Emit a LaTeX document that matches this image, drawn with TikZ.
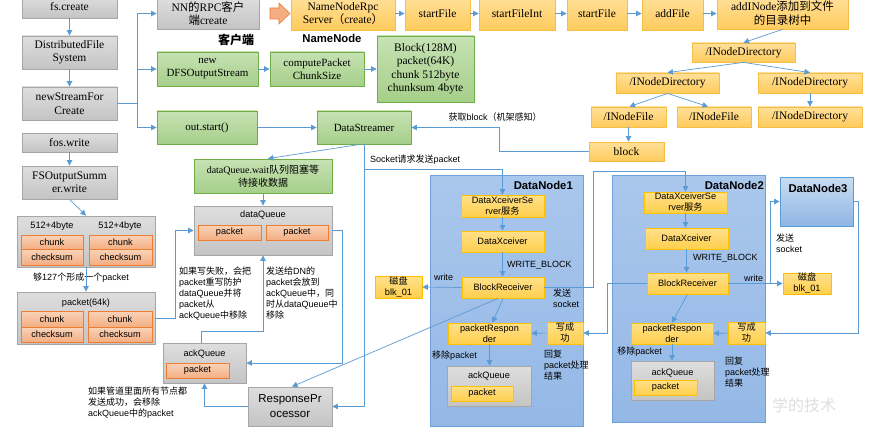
\documentclass[tikz,border=0pt]{standalone}
\usepackage{fontspec}
\setmainfont{Liberation Serif}
\setsansfont{Liberation Sans}
\newfontfamily\cjk{Noto Sans CJK SC}
\newcommand\zh[1]{{\cjk #1}}
\usetikzlibrary{arrows.meta}
\definecolor{arrowblue}{HTML}{5B9BD5}
\definecolor{greyline}{HTML}{A6A6A6}
\definecolor{greytop}{HTML}{DEDEDE}
\definecolor{greybot}{HTML}{C4C4C4}
\definecolor{greenline}{HTML}{70AD47}
\definecolor{greentop}{HTML}{C6E2B3}
\definecolor{greenbot}{HTML}{A6CF8A}
\definecolor{orline}{HTML}{F6BE45}
\definecolor{ortop}{HTML}{FFE09A}
\definecolor{orbot}{HTML}{FFCB5C}
\definecolor{dnline}{HTML}{FFC000}
\definecolor{dntop}{HTML}{FFE08A}
\definecolor{dnbot}{HTML}{FFCF4D}
\definecolor{chline}{HTML}{ED7D31}
\definecolor{chtop}{HTML}{F9D3B9}
\definecolor{chbot}{HTML}{F4AE82}
\definecolor{blueline}{HTML}{6FA0DC}
\definecolor{bluetop}{HTML}{AAC7EC}
\definecolor{bluebot}{HTML}{94B8E6}
\definecolor{dn3top}{HTML}{C9DDF2}
\definecolor{dn3bot}{HTML}{8EB6E3}
\newcommand\mybox[7]{%
  \pgfmathsetmacro\bcx{(#3+#5)/2}\pgfmathsetmacro\bcy{(#4+#6)/2}%
  \pgfmathsetmacro\bw{#5-#3}\pgfmathsetmacro\bh{#6-#4}%
  \node[#1, minimum width=\bw pt, minimum height=\bh pt] (#2) at (\bcx,\bcy) {#7};}
\tikzset{
  bx/.style={draw, inner sep=0pt, align=center, line width=0.8pt},
  serif/.style={font=\rmfamily\fontsize{11.5}{13.5}\selectfont},
  sans/.style={font=\sffamily\fontsize{9.2}{11}\selectfont},
  greybox/.style={bx, draw=greyline, top color=greytop, bottom color=greybot},
  greenbox/.style={bx, draw=greenline, top color=greentop, bottom color=greenbot},
  orbox/.style={bx, draw=orline, top color=ortop, bottom color=orbot},
  dnin/.style={bx, draw=dnline, top color=dntop, bottom color=dnbot, sans},
  chbox/.style={bx, draw=chline, top color=chtop, bottom color=chbot, sans},
  dnbox/.style={bx, draw=blueline, top color=bluetop, bottom color=bluebot},
  arr/.style={draw=arrowblue, line width=0.7pt, -{Triangle[length=5.5pt,width=5.5pt]}},
  ln/.style={draw=arrowblue, line width=0.7pt},
  annot/.style={inner sep=0pt, align=left, font=\sffamily\fontsize{9}{11}\selectfont},
  title/.style={inner sep=0pt, font=\sffamily\bfseries\fontsize{11.3}{13}\selectfont},
}
\begin{document}
\begin{tikzpicture}[x=1pt,y=-1pt]
\useasboundingbox (0,0) rectangle (893,441);
\fill[white] (0,0) rectangle (893,441);
\node[text=black!12, font=\cjk\fontsize{16}{16}\selectfont] (wm) at (804,405) {学的技术};

% left column
\mybox{greybox,serif}{fscreate}{22}{-4}{117}{18}{fs.create}
\mybox{greybox,serif}{dfs}{22}{36}{117}{69}{DistributedFile\\System}
\mybox{greybox,serif}{nsfc}{22}{87}{117}{120}{newStreamFor\\Create}
\mybox{greybox,serif}{fosw}{22}{133}{117}{152}{fos.write}
\mybox{greybox,serif}{fsos}{22}{166}{117}{199}{FSOutputSumm\\er.write}

\mybox{greybox}{grpa}{17}{216}{155}{267}{}
\node[sans] (lab512a) at (52,226) {512+4byte};
\node[sans] (lab512b) at (120,226) {512+4byte};
\mybox{chbox}{cha}{21}{235}{83}{249}{chunk}
\mybox{chbox}{csa}{21}{249}{83}{265}{checksum}
\mybox{chbox}{chb}{89}{235}{152}{249}{chunk}
\mybox{chbox}{csb}{89}{249}{152}{265}{checksum}
\node[annot] (t127) at (81,278) {\zh{够}127\zh{个形成一个}packet};

\mybox{greybox}{grpb}{17}{292}{155}{344}{}
\node[sans] (lab64) at (86,303) {packet(64k)};
\mybox{chbox}{chc}{21}{311}{83}{327}{chunk}
\mybox{chbox}{csc}{21}{327}{83}{342}{checksum}
\mybox{chbox}{chd}{88}{311}{152}{327}{chunk}
\mybox{chbox}{csd}{88}{327}{152}{342}{checksum}

% client column
\mybox{greybox,serif}{nnrpc}{157}{-2}{259}{29}{NN\zh{的}RPC\zh{客户}\\\zh{端}create}
\fill[fill=chbot, draw=chline, line width=0.6pt] (270,8) -- (279,8) -- (279,3) -- (290,13.5) -- (279,24) -- (279,19) -- (270,19) -- cycle;
\node[inner sep=0pt, font=\cjk\bfseries\fontsize{12}{14}\selectfont] (tkehu) at (236,40) {客户端};
\mybox{greenbox,serif,font=\fontsize{11}{13}\selectfont}{newdfs}{157}{52}{258}{86}{new\\DFSOutputStream}
\mybox{greenbox,serif,font=\fontsize{11}{13}\selectfont}{compute}{270}{52}{364}{86}{computePacket\\ChunkSize}
\mybox{greenbox,serif}{blockinfo}{377}{36}{474}{102}{Block(128M)\\packet(64K)\\chunk 512byte\\chunksum 4byte}
\mybox{greenbox,serif,font=\fontsize{11}{13}\selectfont}{outstart}{157}{111}{257}{144}{out.start()}
\mybox{greenbox,serif,font=\fontsize{11}{13}\selectfont}{ds}{317}{111}{411}{144}{DataStreamer}
\mybox{greenbox,serif,font=\fontsize{10}{13}\selectfont}{wait}{194}{159}{332}{193}{dataQueue.wait\zh{队列阻塞等}\\\zh{待接收数据}}

\mybox{greybox}{dq}{194}{206}{332}{255}{}
\node[sans] (labdq) at (263,215) {dataQueue};
\mybox{chbox}{dqp1}{198}{225}{261}{240}{packet}
\mybox{chbox}{dqp2}{266}{225}{328}{240}{packet}

\mybox{greybox}{ackq}{163}{343}{246}{383}{}
\node[sans] (labaq) at (204.5,354) {ackQueue};
\mybox{chbox}{aqp}{166}{363}{229}{378}{packet}
\mybox{greybox,font=\sffamily\fontsize{11.5}{15}\selectfont}{rp}{248}{387}{332}{426}{ResponsePr\\ocessor}

\node[annot, anchor=north west] (tfail) at (179,267) {\zh{如果写失败，会把}\\packet\zh{重写防护}\\dataQueue\zh{并将}\\packet\zh{从}\\ackQueue\zh{中移除}};
\node[annot, anchor=north west] (tsend) at (266,267) {\zh{发送给}DN\zh{的}\\packet\zh{会放到}\\ackQueue\zh{中，同}\\\zh{时从}dataQueue\zh{中}\\\zh{移除}};
\node[annot, anchor=north west] (tall) at (88,387) {\zh{如果管道里面所有节点都}\\\zh{发送成功，会移除}\\ackQueue\zh{中的}packet};

% NameNode chain
\mybox{orbox,serif}{nnrpcs}{291}{-3}{395}{30}{NameNodeRpc\\Server\zh{（}create\zh{）}}
\node[title] (tnn) at (332,38) {NameNode};
\mybox{orbox,serif}{sf1}{405}{-3}{470}{30}{startFile}
\mybox{orbox,serif}{sfi}{479}{-3}{555}{30}{startFileInt}
\mybox{orbox,serif}{sf2}{567}{-3}{627}{30}{startFile}
\mybox{orbox,serif}{af}{642}{-3}{703}{30}{addFile}
\mybox{orbox,serif}{ain}{717}{-3}{848}{29}{addINode\zh{添加到文件}\\\zh{的目录树中}}
\mybox{orbox,serif}{dtop}{692}{43}{795}{62}{/INodeDirectory}
\mybox{orbox,serif}{dl}{616}{73}{719}{93}{/INodeDirectory}
\mybox{orbox,serif}{dr}{758}{73}{862}{93}{/INodeDirectory}
\mybox{orbox,serif}{f1}{591}{107}{666}{127}{/INodeFile}
\mybox{orbox,serif}{f2}{677}{107}{751}{127}{/INodeFile}
\mybox{orbox,serif}{drr}{758}{107}{862}{127}{/INodeDirectory}
\mybox{orbox,serif}{blk}{589}{142}{664}{161}{block}
\node[annot] (tgetblk) at (495,117) {\zh{获取}block\zh{（机架感知）}};
\node[annot, anchor=west] (tsock) at (370,160) {Socket\zh{请求发送}packet};

% DataNodes
\mybox{dnbox}{dn1}{430}{175}{583}{426}{}
\mybox{dnbox}{dn2}{612}{175}{765}{422}{}
\mybox{bx,draw=arrowblue,top color=dn3top,bottom color=dn3bot}{dn3}{780}{177}{853}{226}{}
\node[title, anchor=east] (tdn1) at (573,185) {DataNode1};
\node[title, anchor=east] (tdn2) at (764,185) {DataNode2};
\node[title] (tdn3) at (818,188) {DataNode3};

\mybox{dnin}{dxs1}{461}{195}{544}{217}{DataXceiverSe\\rver\zh{服务}}
\mybox{dnin}{dx1}{461}{231}{544}{252}{DataXceiver}
\mybox{dnin}{br1}{462}{277}{544}{298}{BlockReceiver}
\mybox{dnin}{disk1}{375}{276}{422}{298}{\zh{磁盘}\\blk\_01}
\mybox{dnin}{pr1}{448}{323}{531}{344}{packetRespon\\der}
\mybox{dnin}{ok1}{547}{322}{583}{344}{\zh{写成}\\\zh{功}}
\mybox{greybox}{aq1}{447}{366}{531}{406}{}
\node[sans] (labaq1) at (489,376) {ackQueue};
\mybox{dnin}{aq1p}{451}{386}{513}{401}{packet}
\node[annot, anchor=west] (twb1) at (507,265) {WRITE\_BLOCK};
\node[annot] (tw1) at (443.5,277) {write};
\node[annot, anchor=north west] (tss1) at (553,289) {\zh{发送}\\socket};
\node[annot] (trm1) at (454.5,356) {\zh{移除}packet};
\node[annot, anchor=north west] (trep1) at (544,350) {\zh{回复}\\packet\zh{处理}\\\zh{结果}};

\mybox{dnin}{dxs2}{644}{192}{727}{213}{DataXceiverSe\\rver\zh{服务}}
\mybox{dnin}{dx2}{645}{228}{728}{249}{DataXceiver}
\mybox{dnin}{br2}{647}{273}{728}{294}{BlockReceiver}
\mybox{dnin}{disk2}{783}{273}{831}{294}{\zh{磁盘}\\blk\_01}
\mybox{dnin}{pr2}{631}{323}{713}{344}{packetRespon\\der}
\mybox{dnin}{ok2}{728}{322}{765}{344}{\zh{写成}\\\zh{功}}
\mybox{greybox}{aq2}{631}{361}{714}{400}{}
\node[sans] (labaq2) at (672.5,373) {ackQueue};
\mybox{dnin}{aq2p}{634}{380}{697}{395}{packet}
\node[annot, anchor=west] (twb2) at (693,258) {WRITE\_BLOCK};
\node[annot] (tw2) at (753.5,278) {write};
\node[annot, anchor=north west] (tss2) at (776,234) {\zh{发送}\\socket};
\node[annot] (trm2) at (639.5,352) {\zh{移除}packet};
\node[annot, anchor=north west] (trep2) at (725,357) {\zh{回复}\\packet\zh{处理}\\\zh{结果}};

% connectors: left
\draw[arr] (fscreate) -- (dfs);
\draw[arr] (dfs) -- (nsfc);
\draw[arr] (fosw) -- (fsos);
\draw[arr] (fsos.south) -- (grpa.north);
\draw[arr] (grpa.south) -- (grpb.north);
\coordinate (jn) at (137,103.5);
\draw[ln] (nsfc.east) -- (jn);
\draw[arr] (jn) |- (nnrpc.west);
\draw[arr] (jn) |- (newdfs.west);
\draw[arr] (jn) |- (outstart.west);
\draw[arr] (newdfs) -- (compute);
\draw[arr] (compute) -- (blockinfo);
\draw[arr] (outstart) -- (ds);
\draw[arr] (grpb.east) -- ++(20,0) |- (dq.west);
\draw[arr] (wait) -- (dq);
\draw[arr] (dq.east) -- ++(10,0) |- (ackq.east);
\draw[arr] ([xshift=-3.5pt]ackq.north) -- ++(0,-11) -| (dq.south);
\draw[arr] (rp.west) -| (ackq.south);
\draw[arr] ([xshift=-4pt]ds.south) -- ([xshift=5pt]wait.north);
\draw[arr] (ds.south) |- (rp.east);
\coordinate (sockj) at (364,169);
\draw[arr] (sockj) -| (dxs1.north);

% NameNode
\draw[arr] (nnrpcs) -- (sf1);
\draw[arr] (sf1) -- (sfi);
\draw[arr] (sfi) -- (sf2);
\draw[arr] (sf2) -- (af);
\draw[arr] (af.east) -- (af.east -| ain.west);
\draw[arr] (ain.south) -- (dtop.north);
\draw[arr] (dtop.south) -- (dl.north);
\draw[arr] (dtop.south) -- (dr.north);
\draw[arr] (dl.south) -- ([xshift=1pt]f1.north);
\draw[arr] (dl.south) -- ([xshift=-6pt]f2.north);
\draw[arr] (dr) -- (drr);
\draw[arr] (f1.south) -- (f1.south |- blk.north);
\draw[arr] (blk.west) -- ++(-89,0) |- (ds.east);

% DataNode 1
\draw[arr] (dxs1) -- (dx1);
\draw[arr] (dx1.south) -- (dx1.south |- br1.north);
\draw[arr] (br1.west) -- (disk1.east);
\draw[arr] (br1.south) -- ([xshift=3pt]pr1.north);
\draw[arr] (ok1) -- (pr1);
\draw[arr] (pr1.south) -- (pr1.south |- aq1.north);
\coordinate (c1) at (593,171);
\draw[arr] (br1.east) -| (c1) -| (dxs2.north);
\draw[arr] ([xshift=-5pt]br1.south) -- ([xshift=2pt]rp.north);

% DataNode 2
\draw[arr] (dxs2.south) -- (dxs2.south |- dx2.north);
\draw[arr] (dx2.south) -- (dx2.south |- br2.north);
\draw[arr] (br2.east) -- (disk2.west);
\coordinate (c2) at (770,283.5);
\draw[arr] (c2) |- (dn3.west);
\draw[arr] (dn3.east) -- ++(5,0) |- (ok2.east);
\draw[arr] (ok2) -- (pr2);
\draw[arr] (br2.south) -- (pr2.north);
\draw[arr] (pr2.south) -- (pr2.south |- aq2.north);
\coordinate (c3) at (607,283.5);
\draw[ln] (br2.west) -- (c3);
\draw[arr] (c3) |- (ok1.east);
\end{tikzpicture}
\end{document}
